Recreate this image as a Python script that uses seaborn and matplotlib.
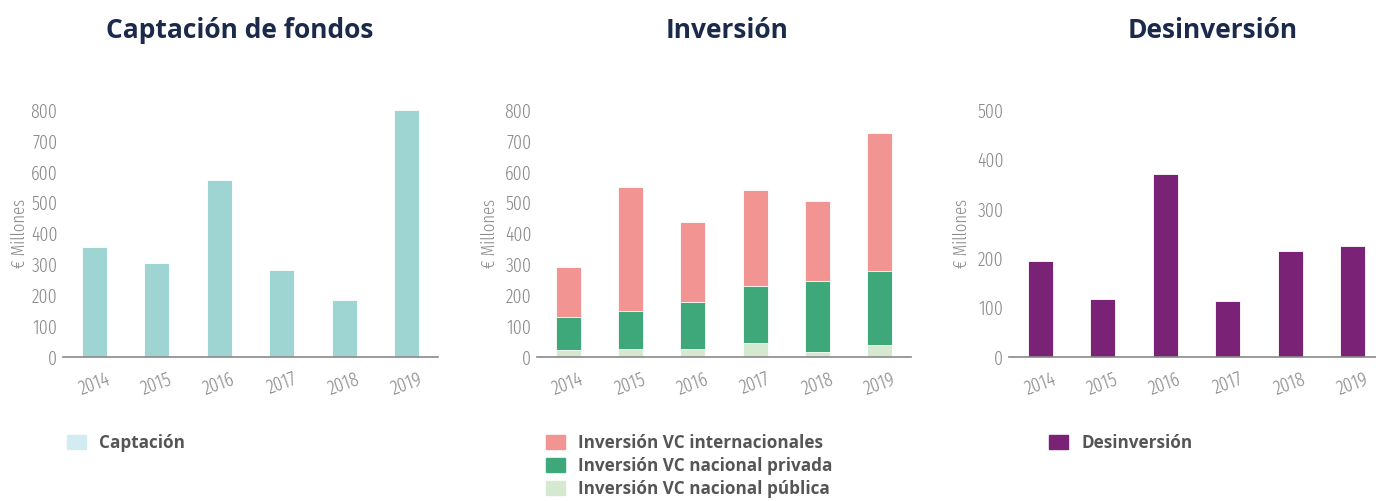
import numpy as np
import pandas as pd
import matplotlib.pyplot as plt
import seaborn as sns
from matplotlib.patches import Patch
from matplotlib import font_manager

plt.switch_backend("Agg")

years = ["2014", "2015", "2016", "2017", "2018", "2019"]
captacion = [357, 305, 572, 282, 184, 801]
inv_publica = [22, 27, 27, 45, 16, 39]
inv_privada = [109, 121, 150, 184, 229, 241]
inv_internacional = [162, 404, 260, 312, 261, 445]
desinversion = [195, 117, 370, 114, 215, 225]

titles = ["Captación de fondos", "Inversión", "Desinversión"]
ylims = [800, 800, 500]
yticks = [np.arange(0, 801, 100), np.arange(0, 801, 100), np.arange(0, 501, 100)]

c_capt = "#9ed5d3"
c_capt_leg = "#d3ecf2"
c_int = "#f29492"
c_priv = "#3fa87a"
c_pub = "#d5e8d0"
c_des = "#7a2275"
c_title = "#1b2a4a"
c_gray = "#8a8a8a"

sns.set_style("white")


def narrow_font(size):
    # the original uses a DIN-like condensed face; pick the narrowest one installed
    files = [f.fname for f in font_manager.fontManager.ttflist]
    bad = ("bold", "oblique", "italic", "black", "medium", "thin", "extralight")
    wanted = [("extracondensed", "light"), ("extracondensed", "regular"), ("extracondensed", ""),
              ("condensed", "light"), ("condensed", ""), ("narrow", "")]
    for a, b in wanted:
        for fn in sorted(files):
            low = fn.lower().replace("-", "").replace("_", "")
            if a in low and b in low and not any(x in low for x in bad):
                if a == "condensed" and ("extracondensed" in low or "semicondensed" in low):
                    continue
                return font_manager.FontProperties(fname=fn, size=size)
    return font_manager.FontProperties(family="DejaVu Sans", size=size)


tick_fp = narrow_font(14)
ylab_fp = narrow_font(13)

fig = plt.figure(figsize=(13.76, 5.01), dpi=100)
W, H = 1376, 501
bottom_px, top_px = 357, 110
boxes = [(63, 375), (537, 374), (1009, 375)]
label_x = [20, 490, 962]
axes = [fig.add_axes([l / W, 1 - bottom_px / H, w / W, (bottom_px - top_px) / H]) for l, w in boxes]

df_capt = pd.DataFrame({"year": years, "value": captacion})
df_des = pd.DataFrame({"year": years, "value": desinversion})
total = np.array(inv_publica) + np.array(inv_privada) + np.array(inv_internacional)
nat = np.array(inv_publica) + np.array(inv_privada)
df_inv = pd.DataFrame({"year": years, "total": total, "nacional": nat, "publica": inv_publica})

bar_kw = dict(width=0.4, saturation=1, edgecolor="white", linewidth=0.6)
sns.barplot(data=df_capt, x="year", y="value", color=c_capt, ax=axes[0], **bar_kw)
sns.barplot(data=df_inv, x="year", y="total", color=c_int, ax=axes[1], **bar_kw)
sns.barplot(data=df_inv, x="year", y="nacional", color=c_priv, ax=axes[1], **bar_kw)
sns.barplot(data=df_inv, x="year", y="publica", color=c_pub, ax=axes[1], **bar_kw)
sns.barplot(data=df_des, x="year", y="value", color=c_des, ax=axes[2], **bar_kw)

for ax, ymax, yt, (l, w), lx in zip(axes, ylims, yticks, boxes, label_x):
    sns.despine(ax=ax, left=True, top=True, right=True)
    ax.spines["bottom"].set_color(c_gray)
    ax.spines["bottom"].set_linewidth(1.2)
    ax.set_xlim(-0.5, 5.5)
    ax.set_ylim(0, ymax)
    ax.set_yticks(yt)
    ax.set_yticklabels([str(v) for v in yt], color=c_gray, fontproperties=tick_fp)
    ax.tick_params(axis="y", length=0, pad=4)
    ax.set_xticks(range(6))
    ax.set_xticklabels(years, rotation=20, color=c_gray, fontproperties=tick_fp)
    ax.tick_params(axis="x", which="major", length=0, pad=9)
    ax.set_xticks(np.arange(-0.5, 6, 1), minor=True)
    ax.tick_params(axis="x", which="minor", length=5, width=1.2, color=c_gray, direction="out")
    ax.set_xlabel("")
    ax.set_ylabel("€ Millones", color=c_gray, fontproperties=ylab_fp, va="center")
    ax.yaxis.set_label_coords((lx - l) / w, 0.5)

title_x = [240, 727, 1213]
for t, x in zip(titles, title_x):
    fig.text(x / W, 1 - 30 / H, t, ha="center", va="center", fontsize=19,
             fontweight="bold", color=c_title, family="Open Sans")

leg_font = dict(family="Open Sans", weight="bold", size=12.3)
leg_kw = dict(loc="upper left", frameon=False, prop=leg_font, labelcolor="#555555",
              handlelength=1.1, handleheight=0.9, handletextpad=0.8, borderaxespad=0,
              borderpad=0)
fig.legend(handles=[Patch(color=c_capt_leg, label="Captación")],
           bbox_to_anchor=(67 / W, 1 - 434 / H), **leg_kw)
fig.legend(handles=[Patch(color=c_int, label="Inversión VC internacionales"),
                    Patch(color=c_priv, label="Inversión VC nacional privada"),
                    Patch(color=c_pub, label="Inversión VC nacional pública")],
           bbox_to_anchor=(546 / W, 1 - 434 / H), labelspacing=0.28, **leg_kw)
fig.legend(handles=[Patch(color=c_des, label="Desinversión")],
           bbox_to_anchor=(1049 / W, 1 - 434 / H), **leg_kw)

fig.savefig("out.png", dpi=100)
